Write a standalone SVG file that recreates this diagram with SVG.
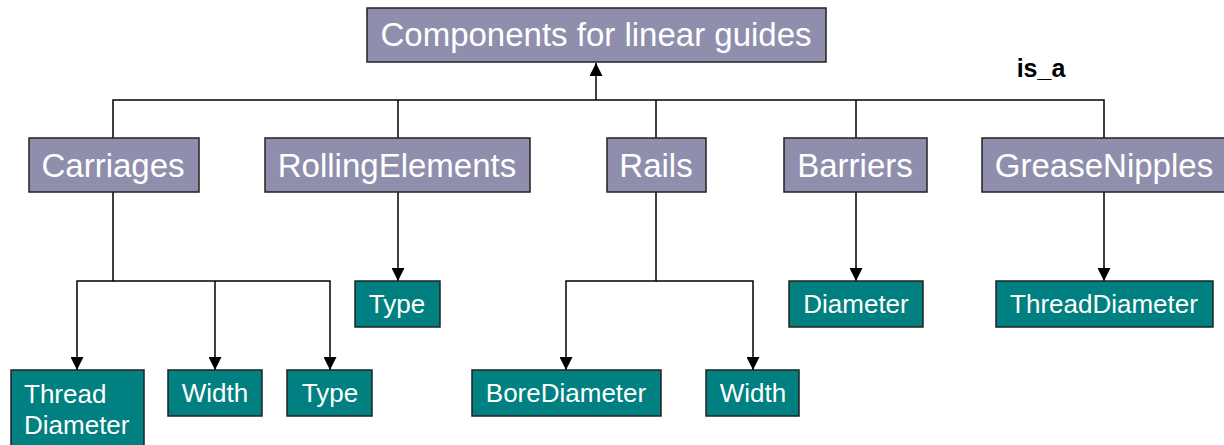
<svg xmlns="http://www.w3.org/2000/svg" width="1224" height="445" viewBox="0 0 1224 445">
  <style>
    .cls { fill: #8f8fad; stroke: #222; stroke-width: 1.5; }
    .attr { fill: #008080; stroke: #222; stroke-width: 1.5; }
    .big { font-family: "Liberation Sans", Arial, sans-serif; font-size: 33px; fill: #ffffff; text-anchor: middle; }
    .small { font-family: "Liberation Sans", Arial, sans-serif; font-size: 26px; fill: #ffffff; text-anchor: middle; }
    .edge { fill: none; stroke: #000; stroke-width: 1.5; }
    .lbl { font-family: "Liberation Sans", Arial, sans-serif; font-size: 25px; font-weight: bold; fill: #000; text-anchor: middle; }
  </style>
  <defs>
    <marker id="arrow" viewBox="0 0 13 13" refX="13" refY="6.5" markerWidth="13" markerHeight="13" markerUnits="userSpaceOnUse" orient="auto">
      <path d="M0,0 L13,6.5 L0,13 Z" fill="#000"/>
    </marker>
  </defs>
  <rect width="1224" height="445" fill="#ffffff"/>

  <g id="connectors">
    <!-- is_a hierarchy -->
    <path class="edge" d="M113,138 V100 H1104 V138"/>
    <path class="edge" d="M398,138 V100"/>
    <path class="edge" d="M656,138 V100"/>
    <path class="edge" d="M856,138 V100"/>
    <path class="edge" d="M596,100 V63" marker-end="url(#arrow)"/>
    <!-- Carriages attributes -->
    <path class="edge" d="M113,192 V281 H77 V370" marker-end="url(#arrow)"/>
    <path class="edge" d="M113,281 H330 V370" marker-end="url(#arrow)"/>
    <path class="edge" d="M215,281 V370" marker-end="url(#arrow)"/>
    <!-- RollingElements attribute -->
    <path class="edge" d="M398,192 V281" marker-end="url(#arrow)"/>
    <!-- Rails attributes -->
    <path class="edge" d="M656,192 V281 H566 V370" marker-end="url(#arrow)"/>
    <path class="edge" d="M656,281 H753 V370" marker-end="url(#arrow)"/>
    <!-- Barriers attribute -->
    <path class="edge" d="M856,192 V281" marker-end="url(#arrow)"/>
    <!-- GreaseNipples attribute -->
    <path class="edge" d="M1104,192 V281" marker-end="url(#arrow)"/>
    <text class="lbl" x="1041" y="77">is_a</text>
  </g>

  <g id="root">
    <rect class="cls" x="367" y="8" width="459" height="54"/>
    <text class="big" x="596" y="46">Components for linear guides</text>
  </g>

  <g id="carriages">
    <rect class="cls" x="29" y="138" width="170" height="54"/>
    <text class="big" x="113" y="177">Carriages</text>
  </g>
  <g id="rolling-elements">
    <rect class="cls" x="265" y="138" width="265" height="54"/>
    <text class="big" x="397" y="177">RollingElements</text>
  </g>
  <g id="rails">
    <rect class="cls" x="607" y="138" width="99" height="54"/>
    <text class="big" x="656" y="177">Rails</text>
  </g>
  <g id="barriers">
    <rect class="cls" x="784" y="138" width="143" height="54"/>
    <text class="big" x="855" y="177">Barriers</text>
  </g>
  <g id="grease-nipples">
    <rect class="cls" x="982" y="138" width="246" height="54"/>
    <text class="big" x="1104" y="177">GreaseNipples</text>
  </g>

  <g id="carriages-thread-diameter">
    <rect class="attr" x="11" y="370" width="133" height="80"/>
    <text class="small" x="24" y="403" style="text-anchor:start">Thread</text>
    <text class="small" x="24" y="434" style="text-anchor:start">Diameter</text>
  </g>
  <g id="carriages-width">
    <rect class="attr" x="168" y="370" width="94" height="46"/>
    <text class="small" x="215" y="402">Width</text>
  </g>
  <g id="carriages-type">
    <rect class="attr" x="287" y="370" width="85" height="46"/>
    <text class="small" x="330" y="402">Type</text>
  </g>
  <g id="rolling-type">
    <rect class="attr" x="355" y="281" width="85" height="46"/>
    <text class="small" x="397" y="313">Type</text>
  </g>
  <g id="rails-bore-diameter">
    <rect class="attr" x="472" y="370" width="189" height="46"/>
    <text class="small" x="566" y="402">BoreDiameter</text>
  </g>
  <g id="rails-width">
    <rect class="attr" x="706" y="370" width="93" height="46"/>
    <text class="small" x="753" y="402">Width</text>
  </g>
  <g id="barriers-diameter">
    <rect class="attr" x="789" y="281" width="134" height="46"/>
    <text class="small" x="856" y="313">Diameter</text>
  </g>
  <g id="grease-thread-diameter">
    <rect class="attr" x="996" y="281" width="217" height="46"/>
    <text class="small" x="1104" y="313">ThreadDiameter</text>
  </g>
</svg>
